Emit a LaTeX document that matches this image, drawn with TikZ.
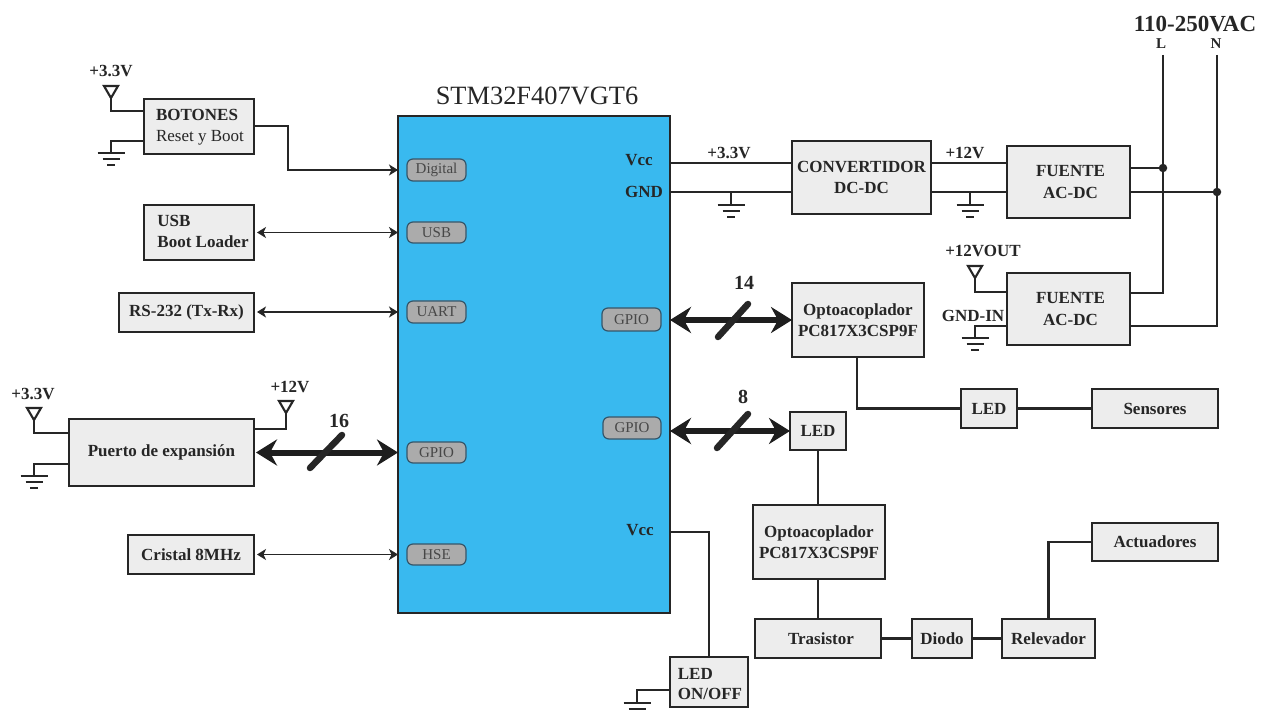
\documentclass[tikz,border=0pt]{standalone}
\usepackage{fontspec}
\setmainfont{Liberation Serif}
\usetikzlibrary{arrows.meta}
\definecolor{ink}{HTML}{262626}
\definecolor{boxfill}{HTML}{EDEDED}
\definecolor{mcublue}{HTML}{39B9EF}
\definecolor{pillfill}{HTML}{ABABAB}
\definecolor{pilledge}{HTML}{35566A}
\tikzset{
  box/.style={draw=ink,fill=boxfill,line width=2.1pt,inner sep=0pt,outer sep=0pt,align=center,text=ink,
     font=\fontsize{17}{21.5}\selectfont\bfseries},
  mcubox/.style={draw=ink,fill=mcublue,line width=2.1pt,inner sep=0pt,outer sep=0pt},
  pill/.style={draw=pilledge,fill=pillfill,line width=1.2pt,rounded corners=6pt,inner sep=0pt,outer sep=0pt,
     text=ink!85,font=\fontsize{15}{15}\selectfont},
  lab/.style={inner sep=0pt,text=ink,font=\fontsize{17}{17}\selectfont\bfseries},
  buslab/.style={inner sep=0pt,text=ink,font=\fontsize{20}{20}\selectfont\bfseries},
  wire/.style={draw=ink,line width=2.1pt},
  sig/.style={draw=ink,line width=1.9pt,{Stealth[length=9pt,width=11pt,inset=2.5pt]}-{Stealth[length=9pt,width=11pt,inset=2.5pt]},shorten <=3pt},
  sigone/.style={draw=ink,line width=2.1pt,-{Stealth[length=9pt,width=11pt,inset=2.5pt]}},
  bus/.style={draw=ink!80!black,line width=6pt,{Stealth[length=21pt,width=26pt,inset=7pt]}-{Stealth[length=21pt,width=26pt,inset=7pt]}},
  slash/.style={draw=ink,line width=6.5pt,line cap=round},
  junction/.style={circle,fill=ink,inner sep=0pt,minimum size=8.5pt},
  gndsym/.pic={
    \draw[wire] (-13.5,0)--(13.5,0);
    \draw[wire] (-8.5,6)--(8.5,6);
    \draw[wire,line width=2.4pt] (-4,12)--(4,12);
  },
  antsym/.pic={
    \draw[wire,line join=miter] (-7,-12)--(7,-12)--(0,0)--cycle;
  }
}
\newcommand\bx[6]{%
  \pgfmathsetmacro\cxx{(#2+#4)/2}%
  \pgfmathsetmacro\cyy{(#3+#5)/2}%
  \node[box,minimum width={(#4-#2)*1pt},minimum height={(#5-#3)*1pt}] (#1) at (\cxx,\cyy) {#6};}
\newcommand\pl[6]{%
  \pgfmathsetmacro\cxx{(#2+#4)/2}%
  \pgfmathsetmacro\cyy{(#3+#5)/2}%
  \node[pill,minimum width={(#4-#2)*1pt},minimum height={(#5-#3)*1pt}] (#1) at (\cxx,\cyy) {#6};}
\begin{document}
\begin{tikzpicture}[x=1pt,y=-1pt]
\useasboundingbox (0,0) rectangle (1270,711);
\fill[white] (0,0) rectangle (1270,711);

% MCU
\node[mcubox,minimum width=272pt,minimum height=497pt] (mcu) at (534,364.5) {};
\node[inner sep=0pt,text=ink,font=\fontsize{26.4}{26.4}\selectfont] (title) at (537,96) {STM32F407VGT6};
\pl{pdig}{407}{159}{466}{181}{Digital}
\pl{pusb}{407}{222}{466}{243}{USB}
\pl{puart}{407}{301}{466}{323}{UART}
\pl{pgl}{407}{442}{466}{463}{GPIO}
\pl{phse}{407}{544}{466}{565}{HSE}
\pl{pga}{602}{308}{661}{331}{GPIO}
\pl{pgb}{603}{417}{661}{439}{GPIO}
\node[lab] (vcca) at (639,160) {Vcc};
\node[lab] (gnda) at (644,192) {GND};
\node[lab] (vccb) at (640,530) {Vcc};

% left boxes
\bx{bot}{144}{99}{254}{154}{\hspace*{2pt}\begin{tabular}{@{}l@{}}BOTONES\\[-1pt]\mdseries Reset y Boot\end{tabular}}
\bx{usb}{144}{205}{254}{260}{\hspace*{8pt}\begin{tabular}{@{}l@{}}USB\\[-1pt]Boot Loader\end{tabular}}
\bx{rs}{119}{293}{254}{332}{RS-232 (Tx-Rx)}
\bx{pto}{69}{419}{254}{486}{Puerto de expansión}
\bx{cri}{128}{535}{254}{574}{Cristal 8MHz}

% right boxes
\bx{conv}{792}{141}{931}{214}{CONVERTIDOR\\DC-DC}
\bx{fa}{1007}{146}{1130}{218}{\hspace*{4pt}FUENTE\\\hspace*{4pt}AC-DC}
\bx{fb}{1007}{273}{1130}{345}{\hspace*{4pt}FUENTE\\\hspace*{4pt}AC-DC}
\bx{opa}{792}{283}{924}{357}{Optoacoplador\\PC817X3CSP9F}
\bx{leda}{790}{412}{846}{450}{LED}
\bx{ledb}{961}{389}{1017}{428}{LED}
\bx{sen}{1092}{389}{1218}{428}{Sensores}
\bx{opb}{753}{505}{885}{579}{Optoacoplador\\PC817X3CSP9F}
\bx{act}{1092}{523}{1218}{561}{Actuadores}
\bx{tra}{755}{619}{881}{658}{\hspace*{6pt}Trasistor}
\bx{dio}{912}{619}{972}{658}{Diodo}
\bx{rel}{1002}{619}{1095}{658}{Relevador}
\bx{lon}{670}{657}{748}{707}{\hspace*{2pt}\begin{tabular}{@{}l@{}}\rule{0pt}{21pt}LED\\[-1pt]ON/OFF\end{tabular}}

% free-end coordinates
\coordinate (ana) at (111,98);
\coordinate (gna) at (111,153);
\coordinate (anb) at (34,420);
\coordinate (gnb) at (34,476);
\coordinate (anc) at (286,413);
\coordinate (gnc) at (731,205);
\coordinate (gnd) at (970,205);
\coordinate (ane) at (975,278);
\coordinate (gne) at (975,338);
\coordinate (gnf) at (637,703);
\coordinate (lt) at (1163,55);
\coordinate (nt) at (1217,55);

% power symbols
\pic at (ana) {antsym};
\pic at (anb) {antsym};
\pic at (anc) {antsym};
\pic at (ane) {antsym};
\pic at (gna) {gndsym};
\pic at (gnb) {gndsym};
\pic at (gnc) {gndsym};
\pic at (gnd) {gndsym};
\pic at (gne) {gndsym};
\pic at (gnf) {gndsym};

% labels
\node[lab] (l33a) at (111,71) {+3.3V};
\node[lab] (l33b) at (33,394) {+3.3V};
\node[lab] (l12a) at (290,387) {+12V};
\node[lab] (l33c) at (729,153) {+3.3V};
\node[lab] (l12b) at (965,153) {+12V};
\node[lab] (l12o) at (983,251) {+12VOUT};
\node[lab] (lgin) at (973,316) {GND-IN};
\node[inner sep=0pt,text=ink,font=\fontsize{23}{23}\selectfont\bfseries] (lac) at (1195,24) {110-250VAC};
\node[inner sep=0pt,text=ink,font=\fontsize{15}{15}\selectfont\bfseries] (ll) at (1161,44) {L};
\node[inner sep=0pt,text=ink,font=\fontsize{15}{15}\selectfont\bfseries] (ln) at (1216,44) {N};
\node[buslab] (n16) at (339,421) {16};
\node[buslab] (n14) at (744,283) {14};
\node[buslab] (n8) at (743,397) {8};

% left wires
\draw[wire] (ana) |- (bot.west |- 0,111);
\draw[wire] (bot.west |- 0,141) -| (gna);
\draw[sigone] (bot.east |- 0,126) -| (288,170) -- (mcu.west |- pdig);
\draw[sig] (usb.east |- pusb) -- (mcu.west |- pusb);
\draw[sig] (rs.east |- puart) -- (mcu.west |- puart);
\draw[sig] (cri.east |- phse) -- (mcu.west |- phse);
\draw[wire] (anb) |- (pto.west |- 0,433);
\draw[wire] (pto.west |- 0,464) -| (gnb);
\draw[wire] (anc) |- (pto.east |- 0,429);
\draw[bus,shorten <=2pt] (pto.east |- pgl) -- (mcu.west |- pgl);
\draw[slash] (310,468) -- (342,435);

% top wires
\draw[wire] (mcu.east |- 0,163) -- (conv.west |- 0,163);
\draw[wire] (mcu.east |- 0,192) -- (conv.west |- 0,192);
\draw[wire] (conv.east |- 0,163) -- (fa.west |- 0,163);
\draw[wire] (conv.east |- 0,192) -- (fa.west |- 0,192);
\draw[wire] (gnc) -- (gnc |- 0,192);
\draw[wire] (gnd) -- (gnd |- 0,192);
\node[junction] (dl) at (1163,168) {};
\node[junction] (dn) at (1217,192) {};
\draw[wire] (fa.east |- dl) -- (dl);
\draw[wire] (fa.east |- dn) -- (dn);
\draw[wire] (lt) |- (fb.east |- 0,293);
\draw[wire] (nt) |- (fb.east |- 0,326);
\draw[wire] (ane) |- (fb.west |- 0,292);
\draw[wire] (fb.west |- 0,326) -| (gne);

% GPIO buses
\draw[bus] (mcu.east |- 0,320) -- (opa.west |- 0,320);
\draw[slash] (718,337) -- (748,304);
\draw[bus] (mcu.east |- 0,431) -- (leda.west |- 0,431);
\draw[slash] (717,448) -- (748,414);

% lower right wires
\draw[wire] (opa.south -| 857,0) |- (ledb.west);
\draw[wire] (ledb.east) -- (sen.west);
\draw[wire] (leda.south) -- (leda.south |- opb.north);
\draw[wire] (opb.south -| tra.north) -- (tra.north);
\draw[wire] (tra.east) -- (dio.west);
\draw[wire] (dio.east) -- (rel.west);
\draw[wire] (rel.north -| 1048.5,0) |- (act.west);
\draw[wire] (mcu.east |- 0,532) -| (lon.north -| 709,0);
\draw[wire] (lon.west |- 0,690) -| (gnf);
\end{tikzpicture}
\end{document}
